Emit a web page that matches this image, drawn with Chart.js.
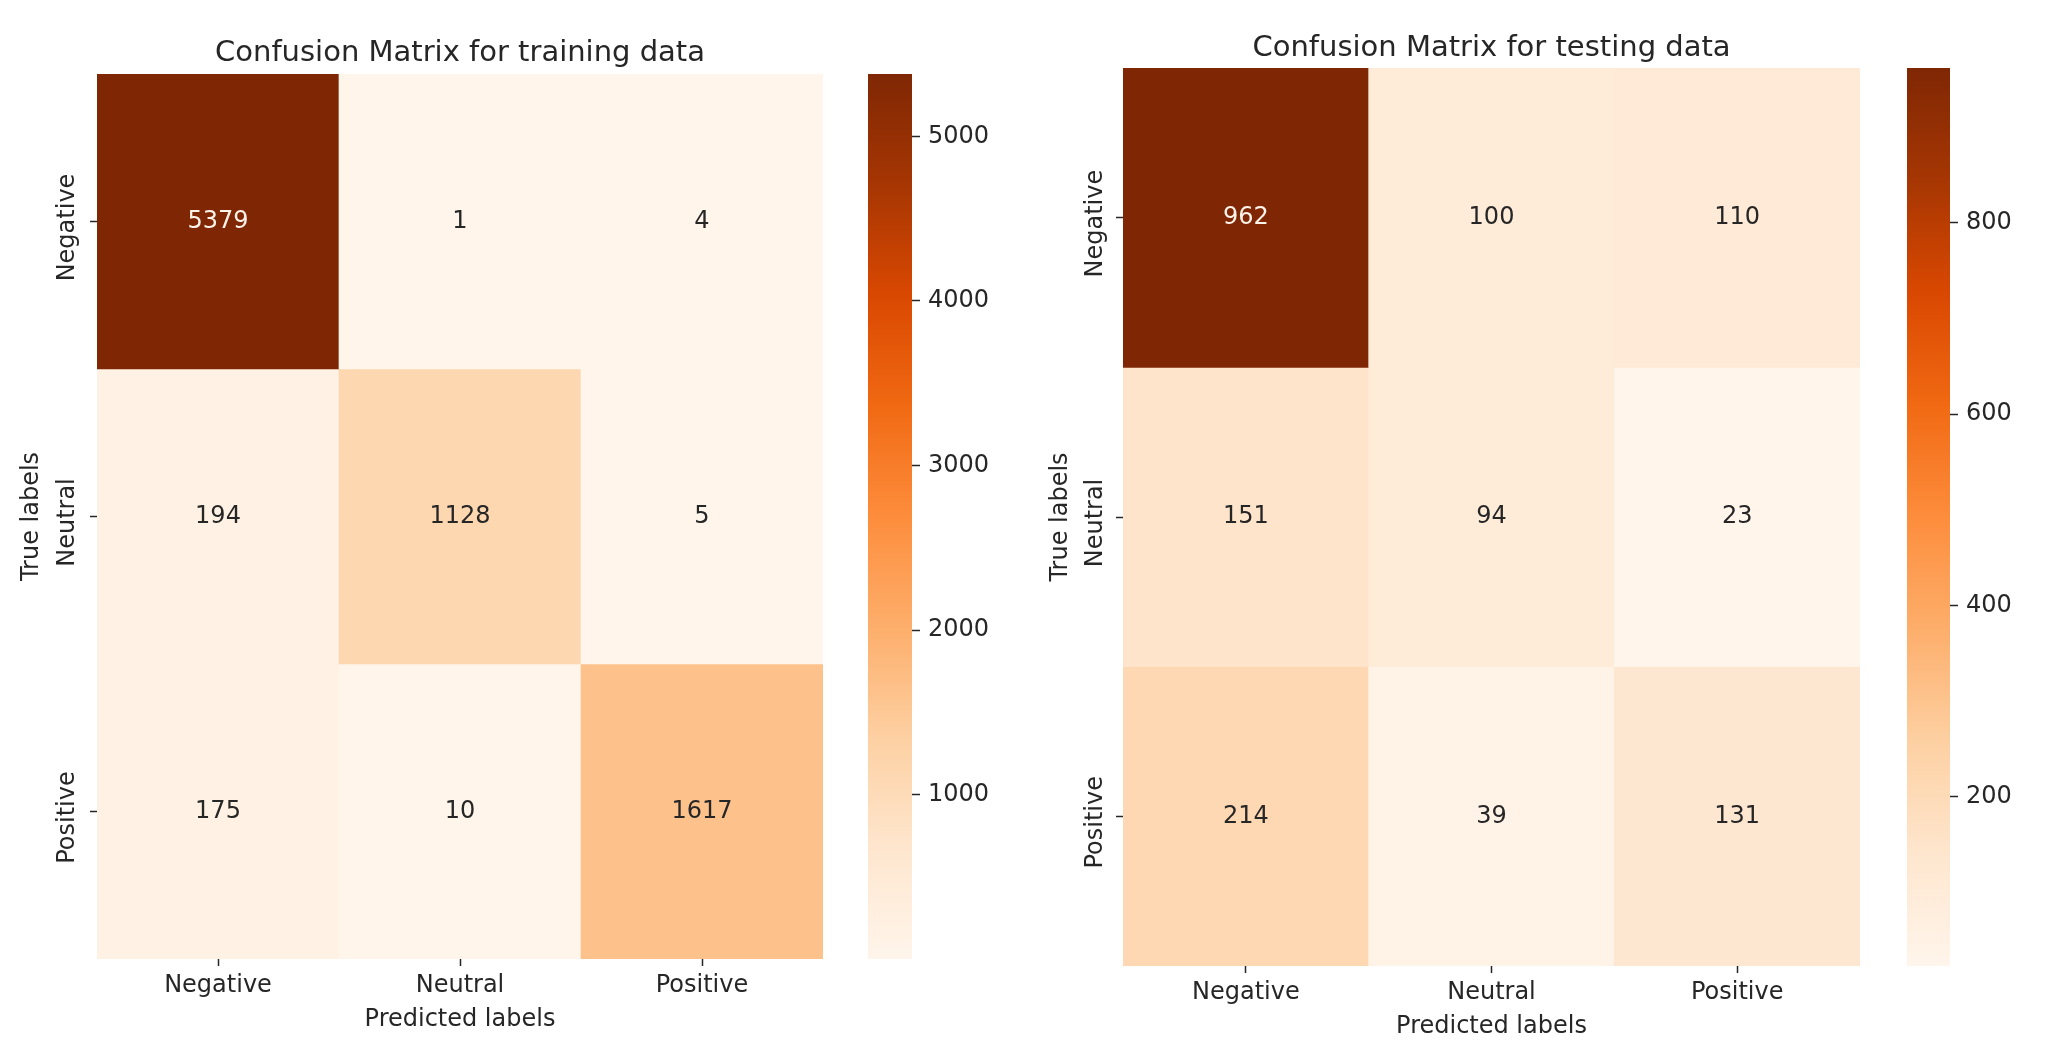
<!DOCTYPE html>
<html>
<head>
<meta charset="utf-8">
<script src="https://cdn.jsdelivr.net/npm/chart.js@4.4.0/dist/chart.umd.min.js"></script>
<style>
  html, body { margin: 0; padding: 0; background: #fff; }
  body { width: 2048px; height: 1058px; position: relative; overflow: hidden; }
  canvas { position: absolute; top: 0; }
</style>
</head>
<body>
<canvas id="trainMatrix" width="850" height="1058" style="left:0px"></canvas>
<canvas id="trainBar" width="140" height="1058" style="left:868px"></canvas>
<canvas id="testMatrix" width="854" height="1058" style="left:1026px"></canvas>
<canvas id="testBar" width="141" height="1058" style="left:1907px"></canvas>
<script>
const classes = ['Negative', 'Neutral', 'Positive'];

// rows = true label, columns = predicted label
const trainNegative = [5379, 1, 4];
const trainNeutral = [194, 1128, 5];
const trainPositive = [175, 10, 1617];

const testNegative = [962, 100, 110];
const testNeutral = [151, 94, 23];
const testPositive = [214, 39, 131];

const trainTicks = [1000, 2000, 3000, 4000, 5000];
const testTicks = [200, 400, 600, 800];

// matplotlib "Oranges"
const oranges = ['#fff5eb', '#fee6ce', '#fdd0a2', '#fdae6b', '#fd8d3c', '#f16913', '#d94801', '#a63603', '#7f2704'];

const ink = '#262626';
const family = '"DejaVu Sans", sans-serif';
const font = { family, size: 24 };

function hexRgb(h) {
    return [1, 3, 5].map(i => parseInt(h.slice(i, i + 2), 16));
}
const orangesRgb = oranges.map(hexRgb);

function colorFor(t) {
    t = Math.max(0, Math.min(1, t));
    const p = t * (orangesRgb.length - 1);
    const i = Math.min(Math.floor(p), orangesRgb.length - 2);
    const f = p - i;
    const a = orangesRgb[i], b = orangesRgb[i + 1];
    return a.map((v, k) => Math.round(v + (b[k] - v) * f));
}

function luminance(rgb) {
    const c = rgb.map(v => {
        v /= 255;
        return v <= 0.03928 ? v / 12.92 : Math.pow((v + 0.055) / 1.055, 2.4);
    });
    return 0.2126 * c[0] + 0.7152 * c[1] + 0.0722 * c[2];
}

function makeMatrix(id, title, rows, lay) {
    const all = rows.flat();
    const vmin = Math.min(...all), vmax = Math.max(...all);
    const norm = v => (v - vmin) / (vmax - vmin);

    const datasets = rows.map((vals, r) => ({
        label: classes[r],
        data: vals.map(() => [r, r + 1]),
        backgroundColor: vals.map(v => 'rgb(' + colorFor(norm(v)).join(',') + ')'),
        borderWidth: 0,
        barPercentage: 1,
        categoryPercentage: 1
    }));

    // numbers in the cells
    const cellText = {
        id: 'cellText',
        afterDatasetsDraw(chart) {
            const c = chart.ctx;
            c.save();
            c.font = '24px ' + family;
            c.textAlign = 'center';
            c.textBaseline = 'middle';
            rows.forEach((vals, r) => {
                chart.getDatasetMeta(r).data.forEach((bar, col) => {
                    const v = vals[col];
                    const p = bar.getCenterPoint();
                    c.fillStyle = luminance(colorFor(norm(v))) > 0.408 ? ink : '#fdf3ea';
                    c.fillText(String(v), p.x, p.y);
                });
            });
            c.restore();
        }
    };

    const tickGrid = { drawOnChartArea: false, tickLength: 7, tickColor: ink, tickWidth: 1.5 };

    new Chart(document.getElementById(id), {
        type: 'bar',
        data: { labels: classes, datasets },
        options: {
            responsive: false,
            animation: false,
            layout: { padding: { left: 0, right: lay.right, top: 0, bottom: lay.bottom } },
            plugins: {
                legend: { display: false },
                tooltip: { enabled: false },
                title: {
                    display: true,
                    text: title,
                    fullSize: false,
                    color: ink,
                    font: { family, size: 29, weight: 'normal' },
                    padding: { top: lay.titleTop, bottom: lay.titleBottom }
                }
            },
            scales: {
                x: {
                    stacked: true,
                    grid: Object.assign({ offset: false }, tickGrid),
                    border: { display: false },
                    ticks: { color: ink, font, padding: 5, maxRotation: 0 },
                    title: { display: true, text: 'Predicted labels', color: ink, font, padding: { top: 0, bottom: 4.6 } },
                    afterFit: s => { s.height = 80; }
                },
                y: {
                    min: 0,
                    max: 3,
                    reverse: true,
                    grid: tickGrid,
                    border: { display: false },
                    afterBuildTicks: s => { s.ticks = classes.map((_, i) => ({ value: i + 0.5 })); },
                    ticks: {
                        color: ink, font,
                        minRotation: 90, maxRotation: 90,
                        crossAlign: 'center',
                        padding: lay.yPad,
                        labelOffset: 6,
                        callback: (v, i) => classes[i]
                    },
                    title: { display: true, text: 'True labels', color: ink, font, padding: { top: lay.yTitle, bottom: 0 } },
                    afterFit: s => { s.width = 97; }
                }
            }
        },
        plugins: [cellText]
    });
}

function barGradient(chart) {
    const a = chart.chartArea;
    if (!a) return oranges[0];
    const g = chart.ctx.createLinearGradient(0, a.bottom, 0, a.top);
    oranges.forEach((c, i) => g.addColorStop(i / (oranges.length - 1), c));
    return g;
}

function makeColorbar(id, rows, ticks, lay) {
    const all = rows.flat();
    const vmin = Math.min(...all), vmax = Math.max(...all);
    new Chart(document.getElementById(id), {
        type: 'bar',
        data: {
            labels: [''],
            datasets: [{
                data: [[vmin, vmax]],
                backgroundColor: ctx => barGradient(ctx.chart),
                borderWidth: 0,
                barPercentage: 1,
                categoryPercentage: 1
            }]
        },
        options: {
            responsive: false,
            animation: false,
            layout: { padding: { left: 0, right: 0, top: lay.top, bottom: lay.bottom } },
            plugins: { legend: { display: false }, tooltip: { enabled: false } },
            scales: {
                x: { display: false },
                y: {
                    position: 'right',
                    min: vmin,
                    max: vmax,
                    grid: { drawOnChartArea: false, tickLength: 8, tickColor: ink, tickWidth: 1.5 },
                    border: { display: false },
                    afterBuildTicks: s => { s.ticks = ticks.map(v => ({ value: v })); },
                    ticks: { color: ink, font, padding: 8, callback: v => String(v) },
                    afterFit: s => { s.width = lay.axis; }
                }
            }
        }
    });
}

const trainRows = [trainNegative, trainNeutral, trainPositive];
const testRows = [testNegative, testNeutral, testPositive];

makeMatrix('trainMatrix', 'Confusion Matrix for training data', trainRows,
    { right: 27, bottom: 19, titleTop: 35.6, titleBottom: 3.6, yPad: -32, yTitle: 17 });
makeColorbar('trainBar', trainRows, trainTicks, { top: 74, bottom: 99, axis: 96 });

makeMatrix('testMatrix', 'Confusion Matrix for testing data', testRows,
    { right: 20, bottom: 12, titleTop: 30.6, titleBottom: 2.6, yPad: -33.5, yTitle: 20 });
makeColorbar('testBar', testRows, testTicks, { top: 68, bottom: 92, axis: 98 });
</script>
</body>
</html>
